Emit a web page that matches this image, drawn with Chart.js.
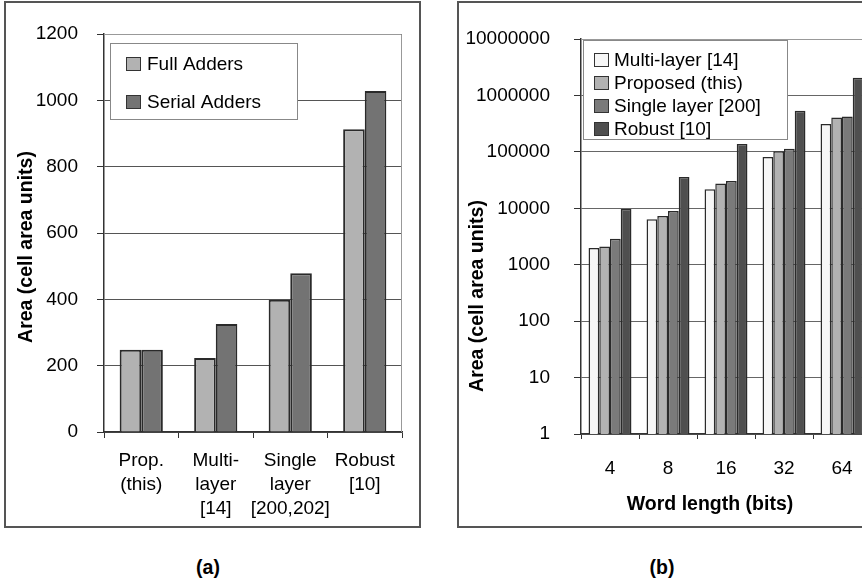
<!DOCTYPE html>
<html>
<head>
<meta charset="utf-8">
<script src="https://cdn.jsdelivr.net/npm/chart.js@4.4.1/dist/chart.umd.min.js"></script>
<style>
  html, body { margin: 0; padding: 0; background: #fff; }
  body { width: 862px; height: 583px; overflow: hidden; position: relative; font-family: "Liberation Sans", Arial, sans-serif; }
  .panel { position: absolute; top: 1px; height: 523px; border: 2px solid #555; }
  #panelA { left: 4px; width: 413px; }
  #panelB { left: 457px; width: 460px; }
  .panel canvas { position: absolute; left: 0; top: 0; }
  .tag { position: absolute; top: 556px; width: 60px; line-height: 22px; text-align: center; font-weight: bold; font-size: 19.5px; color: #000; }
</style>
</head>
<body>
<div class="panel" id="panelA"><canvas id="chartA" width="413" height="523"></canvas></div>
<div class="panel" id="panelB"><canvas id="chartB" width="460" height="523"></canvas></div>
<div class="tag" style="left:178px">(a)</div>
<div class="tag" style="left:632px">(b)</div>
<script>
const FONT = '"Liberation Sans", Arial, sans-serif';

// (a) area of adder designs
const adderCategories = [['Prop.', '(this)'], ['Multi-', 'layer', '[14]'], ['Single', 'layer', '[200,202]'], ['Robust', '[10]']];
const fullAdders = [248, 223, 399, 913];
const serialAdders = [248, 326, 479, 1028];
const adderTicks = [0, 200, 400, 600, 800, 1000, 1200];

// (b) area vs word length (log scale)
const wordLengths = ['4', '8', '16', '32', '64'];
const multiLayer = [1970, 6370, 21800, 80700, 311000];
const proposed = [2110, 7300, 27400, 103000, 408000];
const singleLayer = [2880, 8950, 30500, 113000, 425000];
const robust = [9700, 35900, 138000, 535000, 2060000];
const areaTicks = [1, 10, 100, 1000, 10000, 100000, 1000000, 10000000];

// frame, boxed legend and axis titles drawn on the canvas
const decor = {
  id: 'decor',
  beforeDatasetsDraw(chart) {
    const { ctx, chartArea: a } = chart;
    ctx.save();
    ctx.strokeStyle = '#999';
    ctx.lineWidth = 1;
    ctx.beginPath();
    ctx.moveTo(a.left, a.top + 0.5);
    ctx.lineTo(a.right - 0.5, a.top + 0.5);
    ctx.lineTo(a.right - 0.5, a.bottom);
    ctx.stroke();
    ctx.restore();
  },
  afterDraw(chart, args, o) {
    const { ctx, chartArea: a } = chart;
    const lg = o.legend;
    ctx.save();
    // legend box
    const bx = a.left + lg.dx, by = a.top + lg.dy;
    ctx.fillStyle = '#fff';
    ctx.fillRect(bx, by, lg.w, lg.h);
    ctx.strokeStyle = '#888';
    ctx.lineWidth = 1;
    ctx.strokeRect(bx + 0.5, by + 0.5, lg.w - 1, lg.h - 1);
    ctx.font = '19px ' + FONT;
    ctx.textBaseline = 'middle';
    ctx.textAlign = 'left';
    chart.data.datasets.forEach((ds, i) => {
      const cy = a.top + lg.row0 + i * lg.gap;
      const sx = a.left + lg.sx;
      ctx.fillStyle = ds.backgroundColor;
      ctx.fillRect(sx, cy - 7, 15, 14);
      ctx.strokeStyle = '#333';
      ctx.strokeRect(sx + 0.5, cy - 6.5, 14, 13);
      ctx.fillStyle = '#000';
      ctx.fillText(ds.label, a.left + lg.tx, cy + 1);
    });
    // axis titles
    ctx.font = 'bold 19.5px ' + FONT;
    ctx.textAlign = 'center';
    ctx.fillStyle = '#000';
    if (o.yTitle) {
      ctx.save();
      ctx.translate(o.yTitle.x, o.yTitle.y);
      ctx.rotate(-Math.PI / 2);
      ctx.fillText(o.yTitle.text, 0, 0);
      ctx.restore();
    }
    if (o.xTitle) {
      ctx.fillText(o.xTitle.text, o.xTitle.x, o.xTitle.y);
    }
    ctx.restore();
  }
};

const tickFont = { family: FONT, size: 19, lineHeight: '24px' };

new Chart(document.getElementById('chartA'), {
  type: 'bar',
  data: {
    labels: adderCategories,
    datasets: [
      { label: 'Full Adders', data: fullAdders, backgroundColor: '#b2b2b2', borderColor: '#2a2a2a', borderWidth: 2 },
      { label: 'Serial Adders', data: serialAdders, backgroundColor: '#737373', borderColor: '#2a2a2a', borderWidth: 2 }
    ]
  },
  options: {
    responsive: false,
    animation: false,
    layout: { padding: { top: 19, right: 17, left: 0, bottom: 0 } },
    datasets: { bar: { categoryPercentage: 0.58, barPercentage: 1 } },
    plugins: {
      legend: { display: false },
      tooltip: { enabled: false },
      decor: {
        legend: { dx: 6, dy: 9, w: 188, h: 77, row0: 30, gap: 38, sx: 22, tx: 43 },
        yTitle: { text: 'Area (cell area units)', x: 21, y: 244 }
      }
    },
    scales: {
      x: {
        grid: { offset: true, drawOnChartArea: false, tickLength: 6, color: '#333' },
        border: { color: '#333', width: 1.5 },
        ticks: { font: tickFont, color: '#000', padding: 11, maxRotation: 0, autoSkip: false },
        afterFit(s) { s.height = 94; }
      },
      y: {
        min: 0, max: 1200,
        afterBuildTicks(s) { s.ticks = adderTicks.map(v => ({ value: v })); },
        grid: { color: '#555', tickColor: '#333', tickLength: 7 },
        border: { color: '#333', width: 1.5 },
        ticks: { font: tickFont, color: '#000', padding: 19, autoSkip: false, callback: v => String(v) },
        afterFit(s) { s.width = 98; }
      }
    }
  },
  plugins: [decor]
});

new Chart(document.getElementById('chartB'), {
  type: 'bar',
  data: {
    labels: wordLengths,
    datasets: [
      { label: 'Multi-layer [14]', data: multiLayer, backgroundColor: '#f6f6f6', borderColor: '#2a2a2a', borderWidth: 1.5 },
      { label: 'Proposed (this)', data: proposed, backgroundColor: '#b2b2b2', borderColor: '#2a2a2a', borderWidth: 1.5 },
      { label: 'Single layer [200]', data: singleLayer, backgroundColor: '#7a7a7a', borderColor: '#2a2a2a', borderWidth: 1.5 },
      { label: 'Robust [10]', data: robust, backgroundColor: '#4f4f4f', borderColor: '#2a2a2a', borderWidth: 1.5 }
    ]
  },
  options: {
    responsive: false,
    animation: false,
    layout: { padding: { top: 33, right: 48, left: 0, bottom: 0 } },
    datasets: { bar: { categoryPercentage: 0.74, barPercentage: 1 } },
    plugins: {
      legend: { display: false },
      tooltip: { enabled: false },
      decor: {
        legend: { dx: 2, dy: 1, w: 205, h: 100, row0: 21, gap: 23, sx: 13, tx: 33 },
        yTitle: { text: 'Area (cell area units)', x: 19, y: 293 },
        xTitle: { text: 'Word length (bits)', x: 251, y: 502 }
      }
    },
    scales: {
      x: {
        grid: { offset: true, drawOnChartArea: false, tickLength: 5, color: '#333' },
        border: { color: '#333', width: 1.5 },
        ticks: { font: tickFont, color: '#000', padding: 18, maxRotation: 0, autoSkip: false },
        afterFit(s) { s.height = 92; }
      },
      y: {
        type: 'logarithmic',
        min: 1, max: 10000000,
        afterBuildTicks(s) { s.ticks = areaTicks.map(v => ({ value: v })); },
        grid: { color: '#666', tickColor: '#333', tickLength: 7 },
        border: { color: '#333', width: 1.5 },
        ticks: { font: tickFont, color: '#000', padding: 24, autoSkip: false, callback: v => String(v) },
        afterFit(s) { s.width = 122; }
      }
    }
  },
  plugins: [decor]
});
</script>
</body>
</html>
